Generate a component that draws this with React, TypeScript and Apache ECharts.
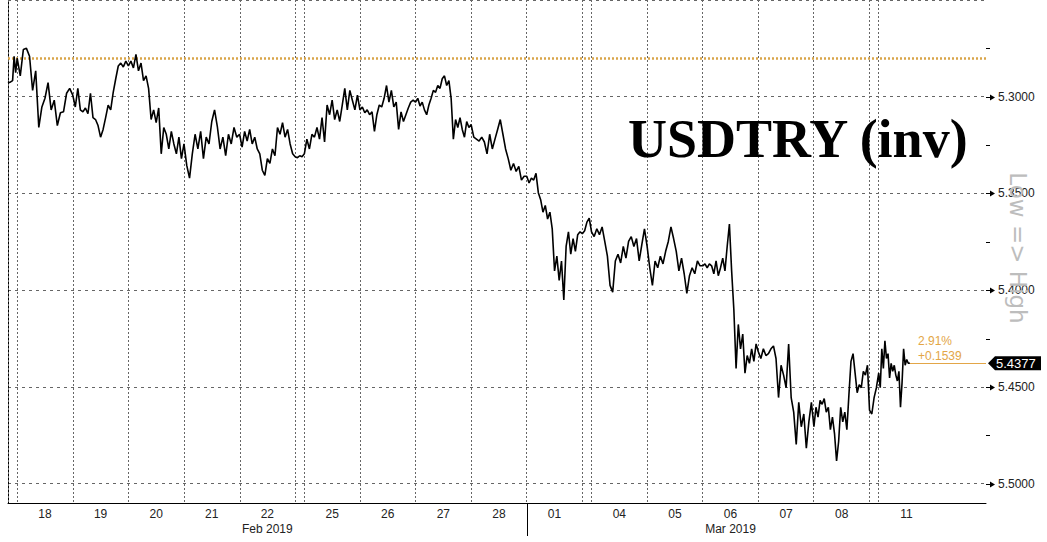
import React, { useEffect, useRef } from "react";
import * as echarts from "echarts";

// ---- Data (USDTRY intraday) ----
const feb17 = [5.2922, 5.2927, 5.2922, 5.2917, 5.2791, 5.2876];
const feb18 = [5.2801, 5.2892, 5.2756, 5.275, 5.2791, 5.2967, 5.2866, 5.3159, 5.3053, 5.3008, 5.2927, 5.3068, 5.3018, 5.3149, 5.3083, 5.3078, 5.2982, 5.2957];
const feb19 = [5.2992, 5.3053, 5.2957, 5.3068, 5.3078, 5.3058, 5.3088, 5.2982, 5.3108, 5.3118, 5.3149, 5.3209, 5.3169, 5.3108, 5.3043, 5.3068, 5.2977, 5.2907, 5.2841, 5.2826, 5.2846, 5.2816];
const feb20 = [5.2841, 5.2816, 5.2851, 5.2781, 5.2866, 5.2826, 5.2917, 5.2892, 5.2957, 5.3118, 5.3068, 5.3134, 5.3058, 5.3295, 5.3159, 5.3194, 5.327, 5.3179, 5.3244, 5.3295, 5.3209, 5.332];
const feb21 = [5.3244, 5.3355, 5.3421, 5.3295, 5.3194, 5.327, 5.3179, 5.332, 5.3209, 5.3244, 5.3128, 5.3068, 5.3154, 5.327, 5.3209, 5.3305, 5.3194, 5.3244, 5.3159, 5.3209];
const feb22 = [5.3194, 5.326, 5.3179, 5.3229, 5.3169, 5.3244, 5.3209, 5.327, 5.3295, 5.338, 5.3406, 5.332, 5.3345, 5.327, 5.3305, 5.3159, 5.3194, 5.3134, 5.3209, 5.3169, 5.3244, 5.3295];
const feb24 = [5.331, 5.3315, 5.3305, 5.331];
const feb25 = [5.3295, 5.3219, 5.327, 5.3194, 5.3209, 5.3159, 5.3219, 5.3108, 5.3234, 5.3043, 5.3093, 5.3018, 5.3118, 5.3068, 5.3128, 5.3043, 5.2957, 5.3068, 5.2967, 5.3018, 5.3068, 5.2992];
const feb26 = [5.3068, 5.3053, 5.3083, 5.3068, 5.3093, 5.3078, 5.3179, 5.3093, 5.3043, 5.3053, 5.3008, 5.2942, 5.3028, 5.2967, 5.3053, 5.3028, 5.3169, 5.3078, 5.3128, 5.3093, 5.3058, 5.3028, 5.3018];
const feb27 = [5.3028, 5.3008, 5.3048, 5.3028, 5.3068, 5.3093, 5.3043, 5.3008, 5.2967, 5.2977, 5.2942, 5.2957, 5.2907, 5.2892, 5.2942, 5.2917, 5.3008, 5.3219, 5.3118, 5.3159, 5.3108, 5.3169, 5.3209, 5.3128, 5.3159];
const feb28 = [5.3144, 5.3209, 5.3219, 5.3229, 5.3209, 5.3234, 5.3295, 5.3194, 5.327, 5.3219, 5.3169, 5.3118, 5.3194, 5.327, 5.332, 5.338, 5.3345, 5.3386, 5.336, 5.3431, 5.3411];
const mar01 = [5.3411, 5.3446, 5.3421, 5.3431, 5.3396, 5.3496, 5.3532, 5.3597, 5.3562, 5.3632, 5.3597, 5.3683, 5.39, 5.3824, 5.395, 5.3849, 5.4051, 5.3774, 5.3698, 5.3814, 5.3733, 5.3799, 5.3713, 5.3698];
const mar03 = [5.3708, 5.3693, 5.3648, 5.3627];
const mar04 = [5.3698, 5.3723, 5.3683, 5.3713, 5.3673, 5.3748, 5.3824, 5.3975, 5.401, 5.3849, 5.3814, 5.3859, 5.3774, 5.3834, 5.3748, 5.3723, 5.3774, 5.3733, 5.3849, 5.3764, 5.3683];
const mar05 = [5.3774, 5.3884, 5.3975, 5.3849, 5.3884, 5.3824, 5.3864, 5.3799, 5.3748, 5.3673, 5.3733, 5.3799, 5.39, 5.3834, 5.3915, 5.4016, 5.3925, 5.3884, 5.3915, 5.3849, 5.3874];
const mar06 = [5.3874, 5.3864, 5.3884, 5.3864, 5.3874, 5.3915, 5.3849, 5.3925, 5.3884, 5.3834, 5.39, 5.3774, 5.3658, 5.39, 5.4101, 5.4404, 5.4177, 5.4303, 5.4227, 5.4429, 5.4338, 5.4378, 5.4303, 5.4368, 5.4278];
const mar07 = [5.4318, 5.4353, 5.4303, 5.4338, 5.4328, 5.4303, 5.4288, 5.4353, 5.4555, 5.4388, 5.4439, 5.4504, 5.4278, 5.4555, 5.463, 5.4797, 5.458, 5.4706, 5.464, 5.4817, 5.4681, 5.458];
const mar08 = [5.4706, 5.4605, 5.4656, 5.457, 5.459, 5.456, 5.463, 5.4605, 5.4721, 5.4656, 5.4741, 5.4882, 5.4782, 5.4605, 5.4681, 5.463, 5.4721, 5.454, 5.4368, 5.4328, 5.4429, 5.453, 5.4489, 5.4504, 5.4419, 5.4439, 5.4388];
const mar10 = [5.462, 5.464, 5.4555, 5.4504];
const mar11 = [5.4429, 5.4504, 5.4303, 5.4404, 5.4262, 5.4353, 5.4328, 5.4454, 5.4378, 5.4419, 5.4388, 5.4439, 5.4469, 5.4419, 5.4605, 5.4479, 5.4303, 5.4388, 5.4358, 5.4378, 5.4377];

const sessionValues = [feb17, feb18, feb19, feb20, feb21, feb22, feb24, feb25, feb26, feb27, feb28, mar01, mar03, mar04, mar05, mar06, mar07, mar08, mar10, mar11];
const sessionLabels = ["", "18", "19", "20", "21", "22", "", "25", "26", "27", "28", "01", "", "04", "05", "06", "07", "08", "", "11"];
// session lengths in trading days (weekend = short Sunday-evening session)
const sessionLengths = [0.165, 1, 1, 1, 1, 1, 0.165, 1, 1, 1, 1, 1, 0.165, 1, 1, 1, 1, 1, 0.165, 1];
const lastSessionProgress = 0.56; // snapshot time within the last session
const trailingDays = 0.93; // empty space after last session

const monthLabels = ["Feb 2019", "Mar 2019"];
const monthLabelUnder = ["22", "06"];
const monthStartSession = "01";

const yTicks = [5.3, 5.35, 5.4, 5.45, 5.5];
const yMinorTicks = [5.275, 5.325, 5.375, 5.425, 5.475];
const yMin = 5.25;
const yMax = 5.51;

const lastPrice = 5.4377;
const netChange = 0.1539;
const pctChange = 2.91;
const referenceLevel = 5.2838;

const title = "USDTRY (inv)";
const axisNote = "Low => High";

export default function App() {
  const ref = useRef<HTMLDivElement>(null);

  useEffect(() => {
    const el = ref.current;
    if (!el) return;
    const chart = echarts.init(el, null, { renderer: "svg" });

    // Build time positions
    const starts: number[] = [];
    const points: [number, number][] = [];
    let t = 0;
    const lastIdx = sessionValues.length - 1;
    sessionValues.forEach((vals, i) => {
      starts.push(t);
      const len = sessionLengths[i];
      const n = vals.length;
      vals.forEach((v, j) => {
        const x = i === lastIdx ? t + (j / (n - 1)) * len * lastSessionProgress : t + (j / n) * len;
        points.push([x, v]);
      });
      t += len;
    });
    const xMax = t + trailingDays;
    const lastPt = points[points.length - 1];

    const isMajor = (v: number) => yTicks.some((m) => Math.abs(m - v) < 1e-6);

    chart.setOption({
      animation: false,
      grid: { left: 8, right: 61, top: -13, bottom: 39, containLabel: false },
      xAxis: {
        type: "value",
        min: 0,
        max: xMax,
        axisLine: { show: true, lineStyle: { color: "#000", width: 1 } },
        axisTick: { show: false },
        axisLabel: { show: false },
        splitLine: { show: false },
      },
      yAxis: {
        type: "value",
        position: "right",
        inverse: true,
        min: yMin,
        max: yMax,
        interval: 0.05,
        axisLine: { show: true, lineStyle: { color: "#000", width: 1 } },
        axisTick: { show: false },
        axisLabel: {
          show: true,
          margin: 12,
          color: "#222",
          fontSize: 12,
          fontFamily: "Liberation Sans",
          formatter: (v: number) => (isMajor(v) ? v.toFixed(4) : ""),
        },
        splitLine: { show: true, lineStyle: { color: "#666", type: [3, 4], width: 1 } },
      },
      series: [
        {
          type: "line",
          data: points,
          showSymbol: false,
          symbol: "none",
          lineStyle: { color: "#000", width: 1.6 },
          z: 5,
          markLine: {
            silent: true,
            symbol: ["none", "none"],
            label: { show: false },
            data: [
              ...starts.map((s) => ({
                xAxis: s,
                lineStyle: { color: "#666", type: [2, 2], width: 1 },
              })),
              {
                yAxis: referenceLevel,
                lineStyle: { color: "#d9a54a", type: [2, 2], width: 2.5 },
              },
              [
                { coord: [lastPt[0], lastPrice], lineStyle: { color: "#e3a647", type: "solid", width: 1 } },
                { coord: [xMax, lastPrice] },
              ],
            ],
          },
        },
      ],
    });

    const px = (x: number, y: number) => chart.convertToPixel({ gridIndex: 0 }, [x, y]) as number[];
    const axisY = px(0, yMax)[1];
    const axisX = px(xMax, yMin)[0];
    const g: any[] = [];

    // Day labels
    sessionLabels.forEach((lab, i) => {
      if (!lab) return;
      const c = px(starts[i] + sessionLengths[i] / 2, yMax);
      g.push({
        type: "text",
        x: c[0],
        y: axisY + 11,
        style: { text: lab, fill: "#222", font: '12px "Liberation Sans"', align: "center", verticalAlign: "middle" },
      });
    });
    // Month labels
    monthLabels.forEach((m, k) => {
      const i = sessionLabels.indexOf(monthLabelUnder[k]);
      const c = px(starts[i] + sessionLengths[i] / 2, yMax);
      g.push({
        type: "text",
        x: c[0],
        y: axisY + 26,
        style: { text: m, fill: "#222", font: '12px "Liberation Sans"', align: "center", verticalAlign: "middle" },
      });
    });
    // Month separator
    const ms = px(starts[sessionLabels.indexOf(monthStartSession)], yMax);
    g.push({
      type: "line",
      shape: { x1: Math.round(ms[0]) + 0.5, y1: axisY, x2: Math.round(ms[0]) + 0.5, y2: axisY + 33 },
      style: { stroke: "#000", lineWidth: 1 },
    });
    // Y ticks
    yTicks.forEach((v) => {
      const y = Math.round(px(0, v)[1]) + 0.5;
      g.push({ type: "line", shape: { x1: axisX, y1: y, x2: axisX + 5, y2: y }, style: { stroke: "#000", lineWidth: 1 } });
      g.push({
        type: "polygon",
        shape: { points: [[axisX + 4, y - 3], [axisX + 4, y + 3], [axisX + 9, y]] },
        style: { fill: "#000" },
      });
    });
    yMinorTicks.forEach((v) => {
      const y = Math.round(px(0, v)[1]) + 0.5;
      g.push({ type: "line", shape: { x1: axisX, y1: y, x2: axisX + 4, y2: y }, style: { stroke: "#000", lineWidth: 1 } });
    });
    // Price tag
    const py = px(0, lastPrice)[1];
    g.push({
      type: "polygon",
      shape: { points: [[axisX + 2, py], [axisX + 9, py - 7], [axisX + 55, py - 7], [axisX + 55, py + 7], [axisX + 9, py + 7]] },
      style: { fill: "#000" },
      z: 20,
    });
    g.push({
      type: "text",
      x: axisX + 10,
      y: py,
      z: 21,
      style: { text: lastPrice.toFixed(4), fill: "#fff", font: '13px "Liberation Sans"', align: "left", verticalAlign: "middle" },
    });
    // change annotations
    g.push({
      type: "text",
      x: axisX - 68,
      y: py - 22,
      style: { text: pctChange.toFixed(2) + "%", fill: "#e3a647", font: '12px "Liberation Sans"', align: "left", verticalAlign: "middle" },
    });
    g.push({
      type: "text",
      x: axisX - 68,
      y: py - 7,
      style: { text: "+" + netChange.toFixed(4), fill: "#e3a647", font: '12px "Liberation Sans"', align: "left", verticalAlign: "middle" },
    });
    // Title
    g.push({
      type: "text",
      x: 628,
      y: 139,
      z: 30,
      style: { text: title, fill: "#000", font: 'bold 54px "Liberation Serif"', align: "left", verticalAlign: "middle" },
    });
    // Rotated axis note
    g.push({
      type: "text",
      x: 1018,
      y: 248,
      rotation: -Math.PI / 2,
      z: 10,
      style: { text: axisNote, fill: "#bdbdbd", font: '23px "DejaVu Sans"', align: "center", verticalAlign: "middle" },
    });

    chart.setOption({ graphic: g });

    return () => chart.dispose();
  }, []);

  return (
    <div
      ref={ref}
      style={{ position: "absolute", left: 0, top: 0, width: 1047, height: 542, background: "#fff" }}
    />
  );
}
